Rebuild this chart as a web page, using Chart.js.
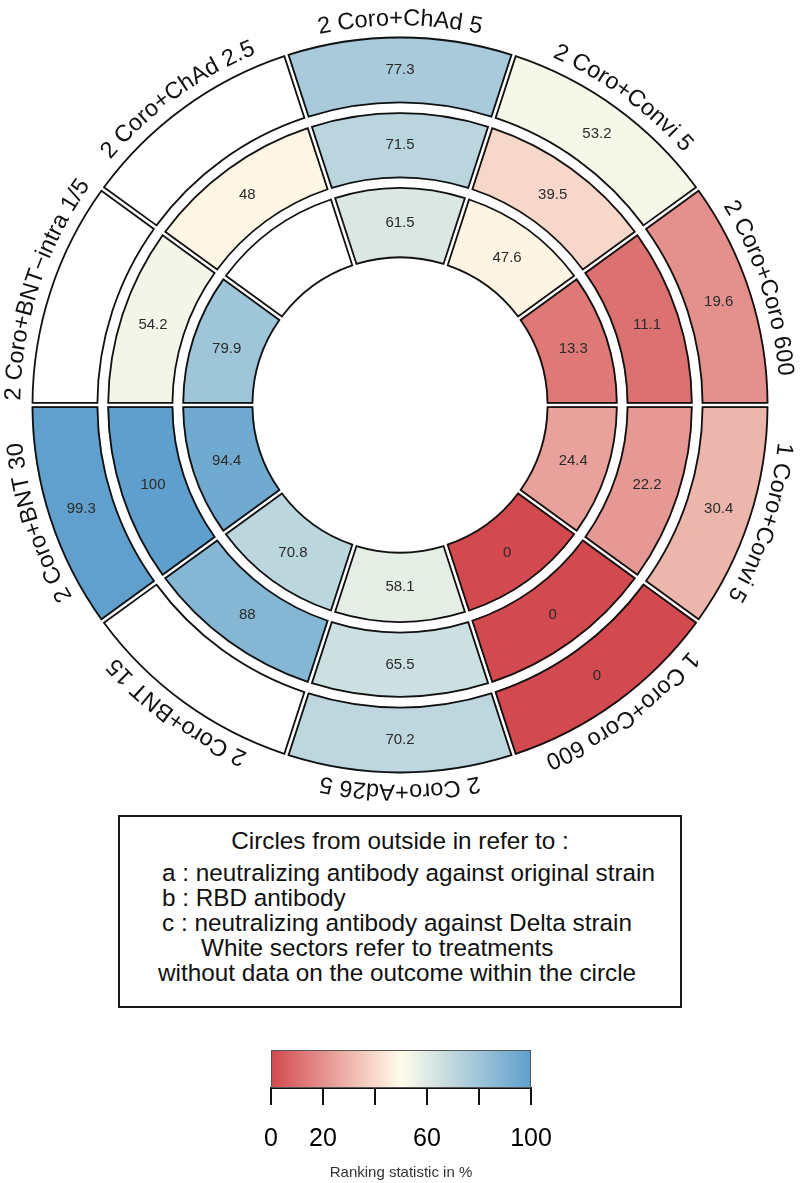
<!DOCTYPE html>
<html><head><meta charset="utf-8">
<script src="https://cdn.jsdelivr.net/npm/chart.js@4.4.1/dist/chart.umd.min.js"></script>
<style>
html,body{margin:0;padding:0;background:#fff;}
body{width:800px;height:1183px;position:relative;overflow:hidden;font-family:"Liberation Sans",Arial,Helvetica,sans-serif;}
#wrap{position:absolute;left:0;top:0;width:800px;height:810px;}
#legend{position:absolute;left:118px;top:815px;width:560px;height:189px;border:2px solid #1a1a1a;}
.lg{position:absolute;font-size:24.3px;line-height:25px;white-space:nowrap;color:#111;}
#cbwrap{position:absolute;left:0;top:1040px;width:800px;height:143px;}
</style></head><body>
<div id="wrap"><canvas id="ring"></canvas></div>
<div id="legend"></div>
<div class="lg" style="left:0;width:800px;text-align:center;top:828px;">Circles from outside in refer to :</div>
<div class="lg" style="left:162px;top:860px;">a : neutralizing antibody against original strain</div>
<div class="lg" style="left:162px;top:885px;">b : RBD antibody</div>
<div class="lg" style="left:162px;top:910px;">c : neutralizing antibody against Delta strain</div>
<div class="lg" style="left:201px;top:935px;">White sectors refer to treatments</div>
<div class="lg" style="left:158px;top:960px;">without data on the outcome within the circle</div>
<div id="cbwrap"><canvas id="cbar"></canvas></div>
<script>
// ---------------- data ----------------
const treatments = ["2 Coro+ChAd 5","2 Coro+Convi 5","2 Coro+Coro 600","1 Coro+Convi 5","1 Coro+Coro 600","2 Coro+Ad26 5","2 Coro+BNT 15","2 Coro+BNT 30","2 Coro+BNT\u2212intra 1/5","2 Coro+ChAd 2.5"];
const ringA = [77.3, 53.2, 19.6, 30.4, 0, 70.2, null, 99.3, null, null]; // neutralizing Ab, original strain
const ringB = [71.5, 39.5, 11.1, 22.2, 0, 65.5, 88, 100, 54.2, 48];     // RBD antibody
const ringC = [61.5, 47.6, 13.3, 24.4, 0, 58.1, 70.8, 94.4, 79.9, null]; // neutralizing Ab, Delta strain
const colorStops = [0, 50, 100];
const colorValues = ["#D2494F", "#FFFDEA", "#5F9FCD"];
const colorbarTicks = [0, 20, 40, 60, 80, 100];
const colorbarLabels = ["0", "20", "", "60", "", "100"];

const FONT = '"Liberation Sans", Arial, Helvetica, sans-serif';

function hex2rgb(h){return [parseInt(h.slice(1,3),16),parseInt(h.slice(3,5),16),parseInt(h.slice(5,7),16)];}
function colorFor(v){
  if (v === null || v === undefined) return '#ffffff';
  let i = 0;
  while (i < colorStops.length - 2 && v > colorStops[i+1]) i++;
  const t = (v - colorStops[i]) / (colorStops[i+1] - colorStops[i]);
  const a = hex2rgb(colorValues[i]), b = hex2rgb(colorValues[i+1]);
  const c = a.map((x,k)=>Math.round(x + (b[k]-x)*t));
  return `rgb(${c[0]},${c[1]},${c[2]})`;
}

const GAP = 2.6;      // white separation drawn by the library border
const LINE = 1.8;     // black outline width
const INSET = GAP / 2 + LINE / 2;

function ringDataset(values, weight){
  return {
    data: treatments.map(() => 1),
    values: values,
    weight: weight,
    backgroundColor: values.map(colorFor),
    borderColor: '#ffffff',
    borderWidth: GAP,
    hoverBorderWidth: GAP,
    borderAlign: 'center'
  };
}
function gapDataset(weight){
  return {
    data: treatments.map(() => 1),
    values: null,
    weight: weight,
    backgroundColor: 'rgba(0,0,0,0)',
    borderColor: 'rgba(0,0,0,0)',
    borderWidth: 0,
    hoverBorderWidth: 0,
    borderAlign: 'center'
  };
}

function insetPath(ctx, p, d){
  const Ro = p.outerRadius - d, Ri = p.innerRadius + d;
  const ao = Math.asin(d / Ro), ai = Math.asin(d / Ri);
  ctx.beginPath();
  ctx.arc(p.x, p.y, Ro, p.startAngle + ao, p.endAngle - ao);
  ctx.arc(p.x, p.y, Ri, p.endAngle - ai, p.startAngle + ai, true);
  ctx.closePath();
}

const labelPlugin = {
  id: 'ringLabels',
  afterDatasetsDraw(chart){
    const ctx = chart.ctx;
    ctx.save();
    // cell outlines
    ctx.strokeStyle = '#111';
    ctx.lineWidth = LINE;
    ctx.lineJoin = 'miter';
    chart.data.datasets.forEach((ds, di) => {
      if (!ds.values) return;
      chart.getDatasetMeta(di).data.forEach((arc) => {
        const p = arc.getProps(['x','y','startAngle','endAngle','innerRadius','outerRadius']);
        insetPath(ctx, p, INSET);
        ctx.stroke();
      });
    });
    // values
    ctx.font = '15px ' + FONT;
    ctx.fillStyle = '#2b2b2b';
    ctx.textAlign = 'center';
    ctx.textBaseline = 'middle';
    chart.data.datasets.forEach((ds, di) => {
      if (!ds.values) return;
      chart.getDatasetMeta(di).data.forEach((arc, i) => {
        const v = ds.values[i];
        if (v === null) return;
        const p = arc.getCenterPoint();
        ctx.fillText(String(v), p.x, p.y);
      });
    });
    // curved treatment labels (tops facing outward)
    const outer = chart.getDatasetMeta(0).data;
    ctx.font = '23.5px ' + FONT;
    ctx.fillStyle = '#111';
    ctx.textBaseline = 'alphabetic';
    outer.forEach((arc, i) => {
      const pr = arc.getProps(['x','y','startAngle','endAngle','outerRadius']);
      const r = pr.outerRadius + 10;
      const mid = (pr.startAngle + pr.endAngle) / 2;
      const text = treatments[i];
      const total = ctx.measureText(text).width;
      let a = mid - total / (2 * r);
      for (const ch of text) {
        const w = ctx.measureText(ch).width;
        const ang = a + w / (2 * r);
        ctx.save();
        ctx.translate(pr.x, pr.y);
        ctx.rotate(ang + Math.PI / 2);
        ctx.fillText(ch, 0, -r);
        ctx.restore();
        a += w / r;
      }
    });
    ctx.restore();
  }
};

new Chart(document.getElementById('ring'), {
  type: 'doughnut',
  data: {
    labels: treatments,
    datasets: [
      ringDataset(ringA, 69.3),
      gapDataset(6.4),
      ringDataset(ringB, 68.6),
      gapDataset(6.4),
      ringDataset(ringC, 73.6)
    ]
  },
  options: {
    responsive: true,
    maintainAspectRatio: false,
    animation: false,
    events: [],
    rotation: -18,
    cutout: 145.4,
    layout: { padding: { left: 29, right: 29, top: 34, bottom: 34 } },
    plugins: { legend: { display: false }, tooltip: { enabled: false } }
  },
  plugins: [labelPlugin]
});

const gradPlugin = {
  id: 'colorbar',
  beforeDatasetsDraw(chart){
    const {ctx, chartArea} = chart;
    const xs = chart.scales.x;
    const g = ctx.createLinearGradient(xs.getPixelForValue(colorStops[0]), 0, xs.getPixelForValue(colorStops[colorStops.length-1]), 0);
    colorStops.forEach((s, i) => g.addColorStop((s - colorStops[0]) / (colorStops[colorStops.length-1] - colorStops[0]), colorValues[i]));
    ctx.save();
    ctx.fillStyle = g;
    ctx.fillRect(chartArea.left, chartArea.top, chartArea.width, chartArea.height);
    ctx.strokeStyle = '#555';
    ctx.lineWidth = 1;
    ctx.strokeRect(chartArea.left + 0.5, chartArea.top + 0.5, chartArea.width - 1, chartArea.height - 1);
    ctx.restore();
  }
};

new Chart(document.getElementById('cbar'), {
  type: 'scatter',
  data: { datasets: [] },
  options: {
    responsive: true,
    maintainAspectRatio: false,
    animation: false,
    events: [],
    layout: { padding: { left: 271, right: 269, top: 10, bottom: 0 } },
    plugins: { legend: { display: false }, tooltip: { enabled: false } },
    scales: {
      x: {
        type: 'linear', min: colorbarTicks[0], max: colorbarTicks[colorbarTicks.length-1], position: 'bottom',
        afterBuildTicks: s => { s.ticks = colorbarTicks.map(v => ({ value: v })); },
        afterFit: s => { s.height = 95; },
        ticks: {
          callback: (v) => colorbarLabels[colorbarTicks.indexOf(v)],
          font: { size: 25, family: FONT }, color: '#000', padding: 19, maxRotation: 0, autoSkip: false
        },
        grid: { drawOnChartArea: false, drawTicks: true, tickLength: 17, color: '#111', lineWidth: 2 },
        border: { display: true, color: '#111', width: 2 },
        title: { display: true, text: 'Ranking statistic in %', font: { size: 15, family: FONT }, color: '#333', padding: { top: 14, bottom: 1 } }
      },
      y: { display: false, min: 0, max: 1 }
    }
  },
  plugins: [gradPlugin]
});
</script>
</body></html>
